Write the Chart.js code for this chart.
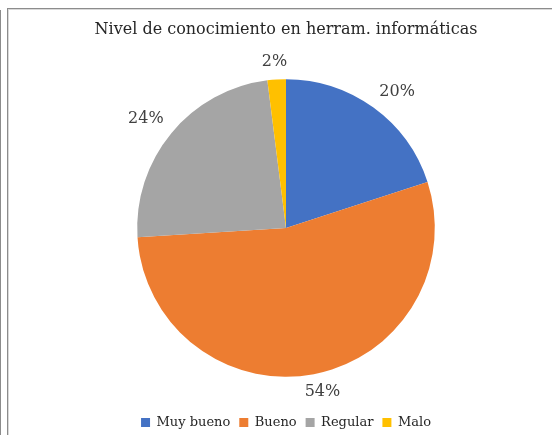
<!DOCTYPE html>
<html>
<head>
<meta charset="utf-8">
<script src="https://cdn.jsdelivr.net/npm/chart.js@4"></script>
<style>
  html, body { margin: 0; padding: 0; background: #fff; }
  body { width: 552px; height: 435px; position: relative; overflow: hidden; }
  .edge { position: absolute; left: 0; top: 10px; bottom: 0; width: 1px; background: #8c8c8c; }
  .frame { position: absolute; left: 7px; top: 8px; right: -2px; bottom: -2px;
           border-top: 1px solid #8c8c8c; border-left: 1px solid #8c8c8c;
           box-shadow: inset 1px 1px 0 #d9d9d9; }
  #wrap { position: absolute; left: 0; top: 0; width: 552px; height: 435px; }
</style>
</head>
<body>
<div class="edge"></div>
<div class="frame"></div>
<div id="wrap"><canvas id="pieChart"></canvas></div>
<script>
// data
const categories = ["Muy bueno", "Bueno", "Regular", "Malo"]
const values = [20, 54, 24, 2]
const sliceColors = ["#4472C4", "#ED7D31", "#A5A5A5", "#FFC000"]
const chartTitle = "Nivel de conocimiento en herram. informáticas"

const serif = "'DejaVu Serif', serif"

function clamp1(v) {
  return Math.max(-1, Math.min(1, v))
}

// percent labels just outside each slice, box pushed away from the rim
const outsideLabels = {
  id: "outsideLabels",
  afterDatasetsDraw(chart) {
    const ctx = chart.ctx
    const meta = chart.getDatasetMeta(0)
    const total = values.reduce((a, b) => a + b, 0)
    ctx.save()
    ctx.font = "16px " + serif
    ctx.fillStyle = "#404040"
    ctx.textAlign = "center"
    ctx.textBaseline = "middle"
    meta.data.forEach((arc, i) => {
      const p = arc.getProps(["x", "y", "startAngle", "endAngle", "outerRadius"], true)
      const mid = (p.startAngle + p.endAngle) / 2
      const text = Math.round(values[i] / total * 100) + "%"
      const hw = ctx.measureText(text).width / 2
      const hh = 8
      const c = Math.cos(mid), s = Math.sin(mid)
      const r = p.outerRadius + 10
      const lx = p.x + c * r + hw * clamp1(2 * c)
      const ly = p.y + s * r + hh * clamp1(2 * s)
      ctx.fillText(text, lx, ly)
    })
    ctx.restore()
  }
}

const ctx = document.getElementById("pieChart").getContext("2d")
new Chart(ctx, {
  type: "pie",
  data: {
    labels: categories,
    datasets: [{
      data: values,
      backgroundColor: sliceColors,
      borderWidth: 0
    }]
  },
  options: {
    responsive: true,
    maintainAspectRatio: false,
    animation: false,
    layout: { padding: { left: 20, right: 0, top: 18, bottom: -4 } },
    plugins: {
      title: {
        display: true,
        text: chartTitle,
        color: "#262626",
        font: { family: serif, size: 16, weight: "normal" },
        padding: { top: 2, bottom: 40 }
      },
      legend: {
        position: "bottom",
        title: { display: true, text: "", font: { size: 1 }, padding: { top: 0, bottom: 29 } },
        labels: {
          boxWidth: 9,
          boxHeight: 9,
          padding: 9,
          color: "#262626",
          font: { family: serif, size: 13 }
        }
      },
      tooltip: { enabled: false }
    }
  },
  plugins: [outsideLabels]
})
</script>
</body>
</html>
